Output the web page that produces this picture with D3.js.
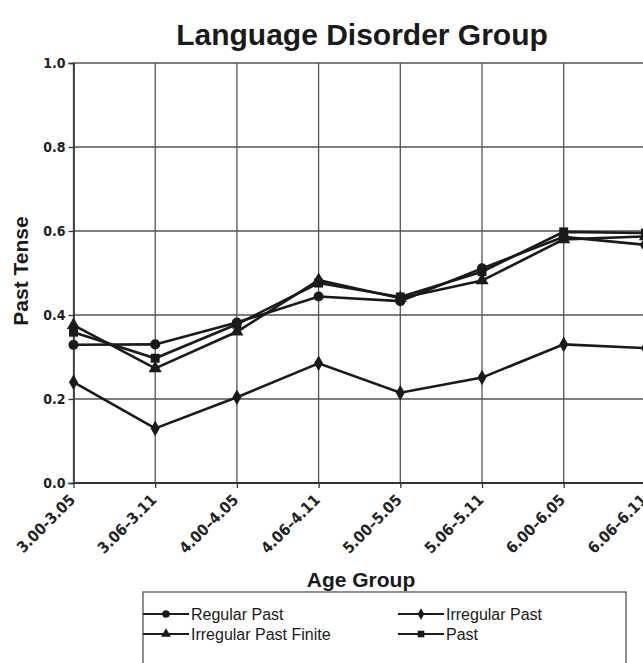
<!DOCTYPE html>
<html>
<head>
<meta charset="utf-8">
<script src="https://cdn.jsdelivr.net/npm/d3@7"></script>
<style>
  body { margin: 0; background: #fff; }
  svg { display: block; }
</style>
</head>
<body>
<svg id="chart" width="643" height="663"></svg>
<script>
// chart data
var ageGroups = ["3.00-3.05", "3.06\u20133.11", "4.00\u20134.05", "4.06\u20134.11",
                 "5.00\u20135.05", "5.06\u20135.11", "6.00\u20136.05", "6.06\u20136.11"];
var regularPast = [0.329, 0.330, 0.382, 0.444, 0.433, 0.511, 0.586, 0.567];
var irregularPast = [0.240, 0.130, 0.204, 0.285, 0.215, 0.251, 0.330, 0.321];
var irregularPastFinite = [0.376, 0.273, 0.360, 0.483, 0.440, 0.482, 0.580, 0.587];
var past = [0.359, 0.297, 0.378, 0.476, 0.443, 0.503, 0.598, 0.595];
var yTicks = [0, 0.2, 0.4, 0.6, 0.8, 1.0];

var series = [
  {name: "Regular Past", values: regularPast, symbol: d3.symbolCircle, size: 80},
  {name: "Irregular Past", values: irregularPast, symbol: d3.symbolDiamond, size: 70},
  {name: "Irregular Past Finite", values: irregularPastFinite, symbol: d3.symbolTriangle, size: 75},
  {name: "Past", values: past, symbol: d3.symbolSquare, size: 80}
];

var svg = d3.select("#chart");
var narrow = "'DejaVu Sans Condensed', 'DejaVu Sans', sans-serif";
var sans = "'Liberation Sans', Arial, Helvetica, sans-serif";

var x = d3.scalePoint().domain(ageGroups).range([73.5, 645.4]);
var y = d3.scaleLinear().domain([0, 1]).range([483, 63]);
var plotRight = 680;

// grid
var grid = svg.append("g").attr("class", "grid");
grid.selectAll("line.h")
  .data(yTicks)
  .enter().append("line")
  .attr("class", "h")
  .attr("x1", x.range()[0]).attr("x2", plotRight)
  .attr("y1", function(d) { return y(d); })
  .attr("y2", function(d) { return y(d); })
  .attr("stroke", "#555").attr("stroke-width", 1.3);
grid.selectAll("line.v")
  .data(ageGroups)
  .enter().append("line")
  .attr("class", "v")
  .attr("x1", function(d) { return x(d); })
  .attr("x2", function(d) { return x(d); })
  .attr("y1", y(1)).attr("y2", y(0))
  .attr("stroke", "#555").attr("stroke-width", 1.3);

// axes
var yAxis = svg.append("g")
  .attr("transform", "translate(" + x.range()[0] + ",0)")
  .call(d3.axisLeft(y).tickValues(yTicks).tickFormat(d3.format(".1f")).tickSize(5).tickPadding(3));
yAxis.select(".domain").attr("stroke", "#333").attr("stroke-width", 1.6);
yAxis.selectAll(".tick line").attr("stroke", "#333").attr("stroke-width", 1.3);
yAxis.selectAll("text")
  .style("font-family", narrow).style("font-stretch", "condensed")
  .style("font-weight", "bold").style("font-size", "14px").attr("fill", "#222");

var xAxis = svg.append("g")
  .attr("transform", "translate(0," + y(0) + ")")
  .call(d3.axisBottom(x).tickSize(5).tickSizeOuter(0));
xAxis.select(".domain").attr("stroke", "#333").attr("stroke-width", 2).attr("d", "M" + x.range()[0] + ",0H" + plotRight);
xAxis.selectAll(".tick line").attr("stroke", "#333").attr("stroke-width", 1.3);
xAxis.selectAll("text")
  .style("font-family", narrow).style("font-stretch", "condensed")
  .style("font-weight", "bold").style("font-size", "15.5px").attr("fill", "#222")
  .attr("text-anchor", "end")
  .attr("dy", null).attr("y", 0)
  .attr("transform", "translate(2,18) rotate(-45)");

// lines + markers
var line = d3.line()
  .x(function(d, i) { return x(ageGroups[i]); })
  .y(function(d) { return y(d); });

series.forEach(function(s) {
  svg.append("path")
    .datum(s.values)
    .attr("d", line)
    .attr("fill", "none")
    .attr("stroke", "#1a1a1a")
    .attr("stroke-width", 2.6);
});
series.forEach(function(s) {
  svg.selectAll(null)
    .data(s.values)
    .enter().append("path")
    .attr("d", d3.symbol().type(s.symbol).size(s.size))
    .attr("transform", function(d, i) { return "translate(" + x(ageGroups[i]) + "," + y(d) + ")"; })
    .attr("fill", "#1a1a1a");
});

// titles
svg.append("text")
  .attr("x", 362).attr("y", 45)
  .attr("text-anchor", "middle")
  .style("font-family", sans).style("font-weight", "bold").style("font-size", "30px")
  .attr("fill", "#1a1a1a")
  .text("Language Disorder Group");

svg.append("text")
  .attr("transform", "translate(28,271) rotate(-90)")
  .attr("text-anchor", "middle")
  .style("font-family", sans).style("font-weight", "bold").style("font-size", "21px")
  .attr("fill", "#1a1a1a")
  .text("Past Tense");

svg.append("text")
  .attr("x", 361).attr("y", 587)
  .attr("text-anchor", "middle")
  .style("font-family", sans).style("font-weight", "bold").style("font-size", "21px")
  .attr("fill", "#1a1a1a")
  .text("Age Group");

// legend
var legend = svg.append("g");
legend.append("rect")
  .attr("x", 143).attr("y", 592).attr("width", 483).attr("height", 100)
  .attr("fill", "none").attr("stroke", "#555").attr("stroke-width", 1.3);

var legendPos = [[143, 614], [398, 614], [143, 634], [398, 634]];
series.forEach(function(s, i) {
  var p = legendPos[i];
  var g = legend.append("g").attr("transform", "translate(" + p[0] + "," + p[1] + ")");
  g.append("line").attr("x1", 0).attr("x2", 46).attr("y1", 0).attr("y2", 0)
    .attr("stroke", "#1a1a1a").attr("stroke-width", 1.8);
  g.append("path")
    .attr("d", d3.symbol().type(s.symbol).size(s.size * 0.55))
    .attr("transform", "translate(23,0)")
    .attr("fill", "#1a1a1a");
  g.append("text")
    .attr("x", 48).attr("y", 5.5)
    .style("font-family", sans).style("font-size", "16px")
    .attr("fill", "#1a1a1a")
    .text(s.name);
});
</script>
</body>
</html>
